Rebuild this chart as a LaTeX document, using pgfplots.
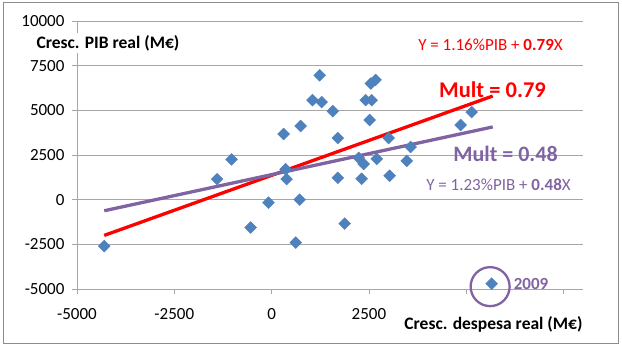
\documentclass[border=0pt]{standalone}
\usepackage{pgfplots}
\pgfplotsset{compat=1.18}
\usepackage{fontspec}
\setmainfont{Carlito}
\definecolor{ptblue}{HTML}{4F81BD}
\definecolor{lpurple}{HTML}{8064A2}
\definecolor{gridgray}{HTML}{A6A6A6}
\definecolor{bordergray}{HTML}{8C8C8C}
\begin{document}
\begin{tikzpicture}
\path (0,0) rectangle (622pt,347pt);
\draw[color=bordergray, line width=0.8pt] (3pt,4pt) rectangle (618pt,345pt);
\begin{axis}[at={(77pt,58pt)}, anchor=south west, scale only axis,
  width=506pt, height=268pt,
  xmin=-5000, xmax=8000, ymin=-5000, ymax=10000,
  scaled ticks=false,
  axis x line*=bottom, axis y line*=left,
  axis line style={gridgray, line width=0.8pt, -},
  xtick={-5000,-2500,0,2500,5000,7500},
  xticklabels={-5000,-2500,0,2500,{},{}},
  ytick={-5000,-2500,0,2500,5000,7500,10000},
  yticklabels={-5000,-2500,0,2500,5000,7500,10000},
  ymajorgrids, grid style={gridgray, line width=0.8pt},
  tick align=outside, major tick length=5pt,
  tick style={gridgray, line width=0.8pt},
  ticklabel style={font=\fontsize{17}{20}\selectfont},
  xticklabel style={yshift=-11pt},
  yticklabel style={xshift=-4pt},
  clip=false]
\addplot[only marks, mark=square*, mark size=4.2pt,
  mark options={rotate=45, fill=ptblue, draw=ptblue}] coordinates {
  (-4300,-2600) (-1400,1150) (-1030,2250) (-540,-1560) (-80,-170)
  (360,1700) (385,1150) (310,3675) (720,0) (620,-2400)
  (745,4120) (1050,5570) (1235,6960) (1285,5460) (1570,4955)
  (1700,3450) (1700,1225) (1876,-1340) (2236,2340) (2364,2000)
  (2313,1170) (2415,5570) (2570,5570) (2518,4455) (2550,6500)
  (2670,6700) (2700,2280) (3006,3450) (3032,1336) (3470,2170)
  (3570,2950) (4857,4176) (5139,4900) (5653,-4700)
};
\addplot[red, line width=3.3pt] coordinates {(-4300,-2000) (5680,5800)};
\addplot[lpurple, line width=3.3pt] coordinates {(-4300,-620) (5680,4070)};
\addplot[only marks, mark=o, mark size=19.5pt,
  mark options={draw=lpurple, line width=2.3pt}] coordinates {(5614,-4868)};
\end{axis}
\node[fill=white, inner sep=2pt, font=\bfseries\fontsize{17.5}{20}\selectfont] at (108pt,304pt) {Cresc. PIB real (M€)};
\node[fill=white, inner sep=2pt, font=\bfseries\fontsize{17.5}{20}\selectfont] at (493.5pt,23pt) {Cresc. despesa real (M€)};
\node[text=red, font=\fontsize{17}{20}\selectfont] at (490.5pt,302pt) {Y = 1.16\%PIB + \textbf{0.79}X};
\node[text=lpurple, font=\fontsize{17}{20}\selectfont] at (498.5pt,162pt) {Y = 1.23\%PIB + \textbf{0.48}X};
\node[text=red, font=\bfseries\fontsize{22.5}{26}\selectfont] at (492.5pt,257pt) {Mult = 0.79};
\node[text=lpurple, font=\bfseries\fontsize{22}{26}\selectfont] at (505.5pt,193pt) {Mult = 0.48};
\node[text=lpurple, font=\bfseries\fontsize{17}{20}\selectfont] at (531pt,63pt) {2009};
\end{tikzpicture}
\end{document}
